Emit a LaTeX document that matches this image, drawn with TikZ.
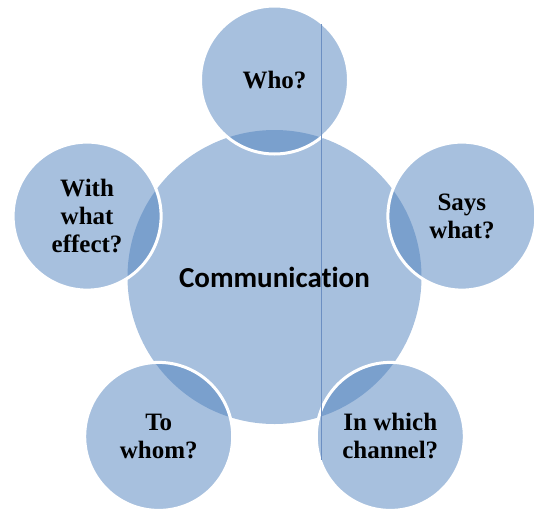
\documentclass[tikz,border=0pt]{standalone}
\usepackage{fontspec}
\setmainfont{Liberation Serif}
\newfontfamily\calibrifont[Ligatures=NoCommon]{Carlito}
\definecolor{accent}{HTML}{4F81BD}
\definecolor{seam}{RGB}{108,143,194}

\begin{document}
\begin{tikzpicture}[x=1pt,y=-1pt]
		\useasboundingbox (0,0) rectangle (534,514);
		\tikzset{HubStyle/.style = {shape=circle,fill=accent,fill opacity=0.5,text opacity=1,
			minimum size=294pt,inner sep=0pt,font=\calibrifont\bfseries\fontsize{29}{32}\selectfont}}
		\tikzset{QuestionStyle/.style = {shape=circle,fill=accent,fill opacity=0.5,text opacity=1,
			draw=white,draw opacity=1,line width=3pt,minimum size=148pt,inner sep=0pt,align=center,
			font=\bfseries\fontsize{25}{28}\selectfont}}
		\node[HubStyle] (comm) at (274.5,277) {Communication};
		\node[QuestionStyle] (who)     at (274.5,80)    {Who?};
		\node[QuestionStyle] (what)    at (461.9,216.1) {Says\\what?};
		\node[QuestionStyle] (channel) at (390.3,436.4) {In which\\channel?};
		\node[QuestionStyle] (whom)    at (158.7,436.4) {To\\whom?};
		\node[QuestionStyle] (effect)  at (87.1,216.1)  {With\\what\\effect?};
		% thin seam line
		\coordinate (seamtop) at (321,24);
		\coordinate (seambot) at (321,460);
		\draw[seam,line width=0.6pt] (seamtop) -- (seambot);
	\end{tikzpicture}
\end{document}
